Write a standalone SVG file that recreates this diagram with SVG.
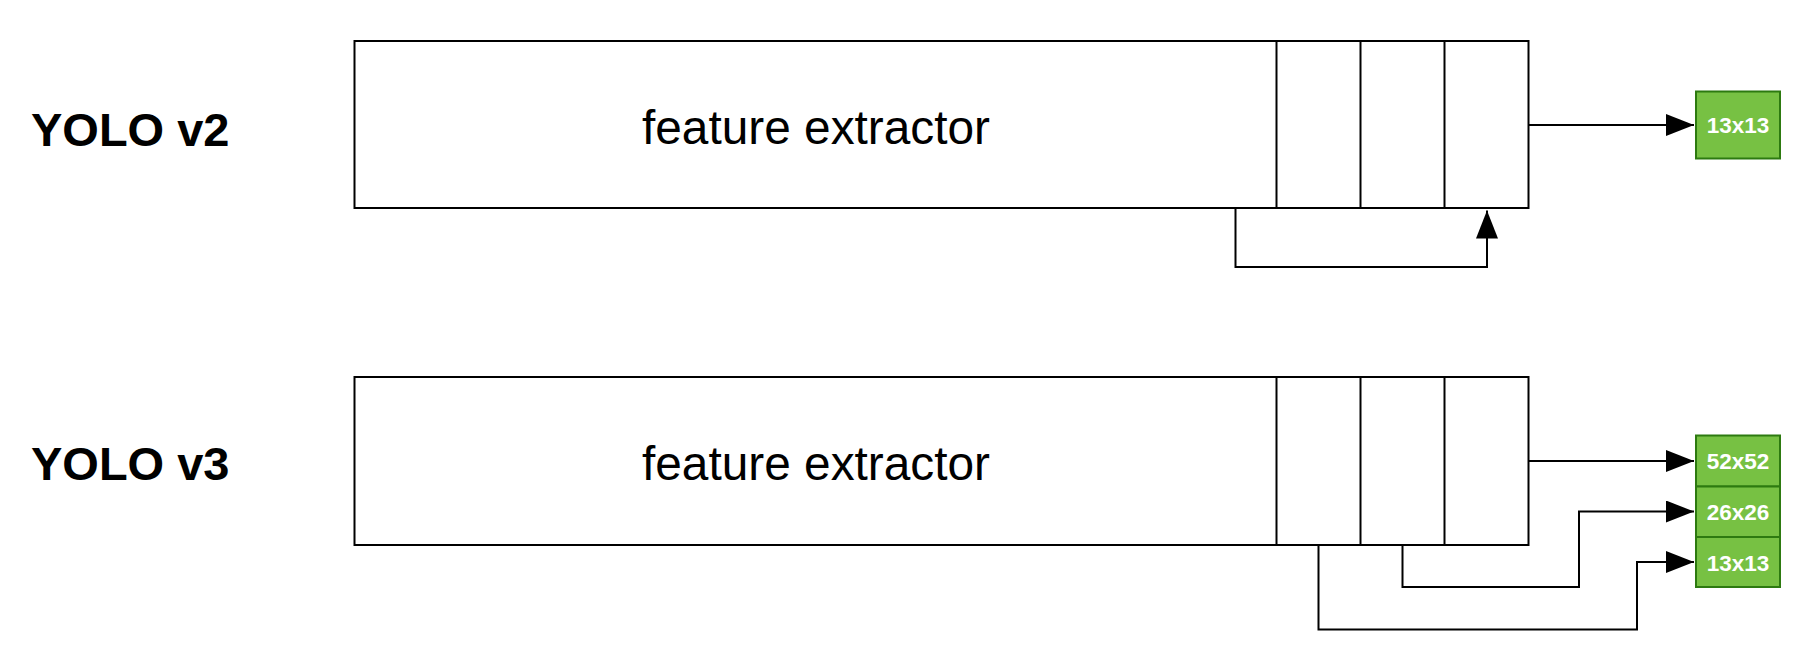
<svg xmlns="http://www.w3.org/2000/svg" width="1809" height="663" viewBox="0 0 1809 663">
<style>
.blk{fill:#ffffff;stroke:#000000;stroke-width:2}
.div{stroke:#000000;stroke-width:2}
.conn{fill:none;stroke:#000000;stroke-width:2}
.grn{fill:#77c143;stroke:#2d7a10;stroke-width:2}
.lbl{font-family:"Liberation Sans",Arial,sans-serif;font-weight:bold;font-size:47px;fill:#000000}
.fe{font-family:"Liberation Sans",Arial,sans-serif;font-size:47.8px;fill:#000000;text-anchor:middle}
.gt{font-family:"Liberation Sans",Arial,sans-serif;font-weight:bold;font-size:22.5px;fill:#ffffff;text-anchor:middle}
</style>
<defs>
<marker id="arr" markerUnits="userSpaceOnUse" markerWidth="28" markerHeight="22" refX="28" refY="11" orient="auto">
<path d="M0,0 L28,11 L0,22 Z" fill="#000000"/>
</marker>
</defs>
<rect width="1809" height="663" fill="#ffffff"/>

<g id="label-v2"><text class="lbl" x="31" y="145.5">YOLO v2</text></g>
<g id="label-v3"><text class="lbl" x="31" y="480">YOLO v3</text></g>

<g id="v2-net">
<rect class="blk" x="354.5" y="41" width="1174" height="167"/>
<line class="div" x1="1276.5" y1="41" x2="1276.5" y2="208"/>
<line class="div" x1="1360.5" y1="41" x2="1360.5" y2="208"/>
<line class="div" x1="1444.5" y1="41" x2="1444.5" y2="208"/>
<text class="fe" x="816" y="144">feature extractor</text>
</g>

<g id="v3-net">
<rect class="blk" x="354.5" y="377" width="1174" height="168"/>
<line class="div" x1="1276.5" y1="377" x2="1276.5" y2="545"/>
<line class="div" x1="1360.5" y1="377" x2="1360.5" y2="545"/>
<line class="div" x1="1444.5" y1="377" x2="1444.5" y2="545"/>
<text class="fe" x="816" y="479.5">feature extractor</text>
</g>

<g id="v2-out">
<rect class="grn" x="1696" y="91.5" width="84" height="67"/>
<text class="gt" x="1738" y="133">13x13</text>
</g>

<g id="v3-out52">
<rect class="grn" x="1696" y="435.5" width="84" height="51"/>
<text class="gt" x="1738" y="469">52x52</text>
</g>
<g id="v3-out26">
<rect class="grn" x="1696" y="486.5" width="84" height="50.5"/>
<text class="gt" x="1738" y="520">26x26</text>
</g>
<g id="v3-out13">
<rect class="grn" x="1696" y="537" width="84" height="50"/>
<text class="gt" x="1738" y="570.5">13x13</text>
</g>

<g id="connectors">
<path class="conn" d="M1528.5,125 H1694" marker-end="url(#arr)"/>
<path class="conn" d="M1235.5,208 V267 H1487 V210.5" marker-end="url(#arr)"/>
<path class="conn" d="M1528.5,461 H1694" marker-end="url(#arr)"/>
<path class="conn" d="M1402.5,545 V587 H1579 V511.5 H1694" marker-end="url(#arr)"/>
<path class="conn" d="M1318.5,545 V629.5 H1637 V562 H1694" marker-end="url(#arr)"/>
</g>
</svg>
